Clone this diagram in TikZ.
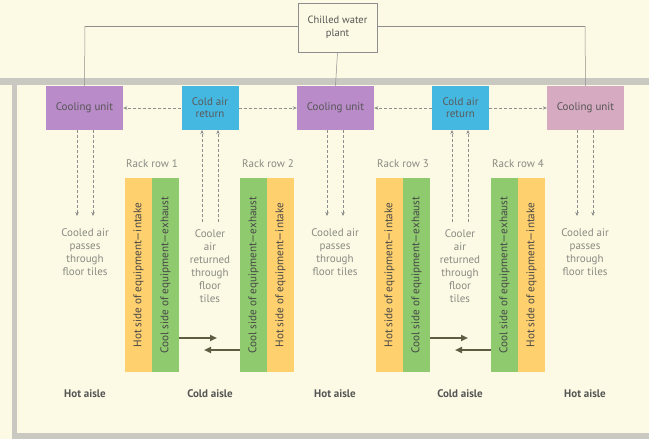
\documentclass[tikz,border=0pt]{standalone}
\usepackage{fontspec}
\setmainfont{PT Sans}
\usetikzlibrary{arrows.meta}

\definecolor{bgcream}{HTML}{FCFAE4}
\definecolor{framegray}{HTML}{C9C9C2}
\definecolor{linegray}{HTML}{8E8E8E}
\definecolor{txtgray}{HTML}{8A8A84}
\definecolor{darktxt}{HTML}{555555}
\definecolor{cupurple}{HTML}{B98BC8}
\definecolor{cupink}{HTML}{D6AAC0}
\definecolor{cyanret}{HTML}{45B8E2}
\definecolor{rackyellow}{HTML}{FFD06E}
\definecolor{rackgreen}{HTML}{8FCB6E}
\definecolor{flowcol}{HTML}{5D5D42}

\tikzset{
  unitbox/.style={minimum width=77pt, minimum height=44pt, inner sep=1pt,
    align=center, text=darktxt, font=\fontsize{11}{12}\selectfont},
  coolunit/.style={unitbox, fill=cupurple},
  returnbox/.style={unitbox, fill=cyanret, minimum width=57pt, text=black!65},
  plantbox/.style={draw=linegray, line width=0.5pt, fill=bgcream, minimum width=79pt,
    minimum height=49pt, align=center, text=darktxt, font=\fontsize{10.5}{13}\selectfont},
  rackbar/.style={rotate=90, minimum width=194pt, minimum height=27pt, inner sep=0pt,
    text=black!72, font=\fontsize{11.2}{12}\selectfont},
  hotbar/.style={rackbar, fill=rackyellow},
  coolbar/.style={rackbar, fill=rackgreen},
  note/.style={align=center, text=txtgray, font=\fontsize{11}{13}\selectfont},
  aisle/.style={text=darktxt, font=\bfseries\fontsize{11}{12}\selectfont},
  racklabel/.style={text=txtgray, font=\fontsize{11}{12}\selectfont},
  pipe/.style={draw=linegray, line width=0.5pt},
  airflow/.style={draw=linegray, line width=0.6pt, dash pattern=on 3pt off 2pt,
    -{Stealth[length=4pt,width=3.5pt]}},
  drift/.style={draw=flowcol, line width=1.8pt, -{Triangle[length=7pt,width=6pt]}}
}

\begin{document}
\begin{tikzpicture}[x=1pt,y=-1pt]
\useasboundingbox (0,0) rectangle (649,439);
\fill[bgcream] (0,0) rectangle (649,439);

% room frame
\fill[framegray] (0,78) rectangle (649,85);
\fill[framegray] (12,85) rectangle (17,439);
\fill[framegray] (12,433) rectangle (649,439);

% chilled water supply
\coordinate (pl) at (85,26);
\coordinate (pr) at (585,26);
\draw[pipe] (pl) -- (pr);
\node[plantbox] (plant) at (337.5,27.5) {Chilled water\\plant};

% air handling units and returns
\node[coolunit] (cu1) at (84.5,108) {Cooling unit};
\node[returnbox] (car1) at (210,108) {Cold air\\return};
\node[coolunit] (cu2) at (335.5,108) {Cooling unit};
\node[returnbox] (car2) at (460.5,108) {Cold air\\return};
\node[coolunit, fill=cupink] (cu3) at (585.5,108) {Cooling unit};

\draw[pipe] (pl) -- (cu1.north);
\draw[pipe] (pr) -- (cu3.north);
\draw[pipe] (plant.south) -- (cu2.north);

% return air to the cooling units
\draw[airflow] (car1.west) -- (cu1.east);
\draw[airflow] (car1.east) -- (cu2.west);
\draw[airflow] (car2.west) -- (cu2.east);
\draw[airflow] (car2.east) -- (cu3.west);

% supply air down through the floor, return air up
\foreach \u/\x in {cu1/77, cu2/327, cu3/577} {
  \draw[airflow] (\x,130) -- (\x,216);
  \draw[airflow] (\x+16,130) -- (\x+16,216);
}
\foreach \u/\x in {car1/202, car2/452} {
  \draw[airflow] (\x,222) -- (\x,130);
  \draw[airflow] (\x+16,222) -- (\x+16,130);
}

% floor notes
\node[note] (n1) at (85,252.5) {Cooled air\\passes\\through\\floor tiles};
\node[note] (n2) at (210,266) {Cooler\\air\\returned\\through\\floor\\tiles};
\node[note] (n3) at (335,252.5) {Cooled air\\passes\\through\\floor tiles};
\node[note] (n4) at (460,266) {Cooler\\air\\returned\\through\\floor\\tiles};
\node[note] (n5) at (585,252.5) {Cooled air\\passes\\through\\floor tiles};

% rack rows
\node[racklabel] (rl1) at (152,164) {Rack row 1};
\node[racklabel] (rl2) at (268,164) {Rack row 2};
\node[racklabel] (rl3) at (403,164) {Rack row 3};
\node[racklabel] (rl4) at (518,164) {Rack row 4};

\node[hotbar]  (r1h) at (138.5,275) {Hot side of equipment—intake};
\node[coolbar] (r1c) at (165.5,275) {Cool side of equipment—exhaust};
\node[coolbar] (r2c) at (253.5,275) {Cool side of equipment—exhaust};
\node[hotbar]  (r2h) at (280.5,275) {Hot side of equipment—intake};
\node[hotbar]  (r3h) at (389.5,275) {Hot side of equipment—intake};
\node[coolbar] (r3c) at (416.5,275) {Cool side of equipment—exhaust};
\node[coolbar] (r4c) at (504.5,275) {Cool side of equipment—exhaust};
\node[hotbar]  (r4h) at (531.5,275) {Hot side of equipment—intake};

% exhaust air crossing the cold aisles
\coordinate (a1s) at (179,338);  \coordinate (a1e) at (217,338);
\coordinate (a2s) at (240,350);  \coordinate (a2e) at (204,350);
\coordinate (a3s) at (430,338);  \coordinate (a3e) at (468,338);
\coordinate (a4s) at (491,350);  \coordinate (a4e) at (455,350);
\draw[drift] (a1s) -- (a1e);
\draw[drift] (a2s) -- (a2e);
\draw[drift] (a3s) -- (a3e);
\draw[drift] (a4s) -- (a4e);

% aisles
\node[aisle] (h1) at (85,394) {Hot aisle};
\node[aisle] (c1) at (210,394) {Cold aisle};
\node[aisle] (h2) at (335,394) {Hot aisle};
\node[aisle] (c2) at (460,394) {Cold aisle};
\node[aisle] (h3) at (585,394) {Hot aisle};
\end{tikzpicture}
\end{document}
